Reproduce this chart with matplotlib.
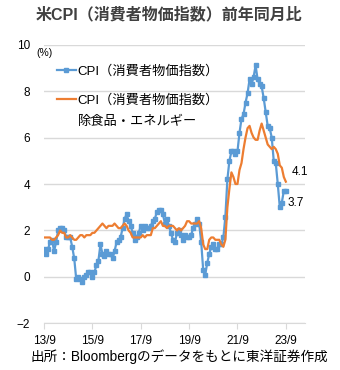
import matplotlib.pyplot as plt
import numpy as np

# monthly, 2013/9 - 2023/9 (YoY, %)
cpi = [
    1.2, 1.0, 1.2, 1.5,
    1.6, 1.1, 1.5, 2.0, 2.1, 2.1, 2.0, 1.7, 1.7, 1.7, 1.3, 0.8,
    -0.1, 0.0, -0.1, -0.2, 0.0, 0.1, 0.2, 0.2, 0.0, 0.2, 0.5, 0.7,
    1.4, 1.0, 0.9, 1.1, 1.0, 1.0, 0.8, 1.1, 1.5, 1.6, 1.7, 2.1,
    2.5, 2.7, 2.4, 2.2, 1.9, 1.6, 1.7, 1.9, 2.2, 2.0, 2.2, 2.1,
    2.1, 2.2, 2.4, 2.5, 2.8, 2.9, 2.9, 2.7, 2.3, 2.5, 2.2, 1.9,
    1.6, 1.5, 1.9, 2.0, 1.8, 1.6, 1.8, 1.7, 1.7, 1.8, 2.1, 2.3,
    2.5, 2.3, 1.5, 0.3, 0.1, 0.6, 1.0, 1.3, 1.4, 1.2, 1.2, 1.4,
    1.4, 1.7, 2.6, 4.2, 5.0, 5.4, 5.4, 5.3, 5.4, 6.2, 6.8, 7.0,
    7.5, 7.9, 8.5, 8.3, 8.6, 9.1, 8.5, 8.3, 8.2, 7.7, 7.1, 6.5,
    6.4, 6.0, 5.0, 4.9, 4.0, 3.0, 3.2, 3.7, 3.7,
]
core = [
    1.7, 1.7, 1.7, 1.7,
    1.6, 1.6, 1.7, 1.8, 2.0, 1.9, 1.9, 1.7, 1.7, 1.8, 1.7, 1.6,
    1.6, 1.7, 1.8, 1.8, 1.7, 1.8, 1.8, 1.8, 1.9, 1.9, 2.0, 2.1,
    2.2, 2.3, 2.2, 2.1, 2.2, 2.2, 2.2, 2.3, 2.2, 2.1, 2.1, 2.2,
    2.3, 2.2, 2.0, 1.9, 1.7, 1.7, 1.7, 1.7, 1.7, 1.8, 1.7, 1.8,
    1.8, 1.8, 2.1, 2.1, 2.2, 2.3, 2.4, 2.2, 2.2, 2.1, 2.2, 2.2,
    2.2, 2.1, 2.0, 2.1, 2.0, 2.1, 2.2, 2.4, 2.4, 2.3, 2.3, 2.3,
    2.3, 2.4, 2.1, 1.4, 1.2, 1.2, 1.6, 1.7, 1.7, 1.6, 1.6, 1.6,
    1.4, 1.3, 1.6, 3.0, 3.8, 4.5, 4.3, 4.0, 4.0, 4.6, 4.9, 5.5,
    6.0, 6.4, 6.5, 6.2, 6.0, 5.9, 5.9, 6.3, 6.6, 6.3, 6.0, 5.7,
    5.6, 5.5, 5.6, 5.5, 5.3, 4.8, 4.7, 4.3, 4.1,
]
x_ticks = [0, 24, 48, 72, 96, 120]
x_labels = ["13/9", "15/9", "17/9", "19/9", "21/9", "23/9"]
y_ticks = [-2, 0, 2, 4, 6, 8, 10]

BLUE = "#5B9BD5"
ORANGE = "#ED7D31"
JP = ["Liberation Sans", "Noto Sans CJK JP"]

plt.rcParams["font.family"] = JP

fig = plt.figure(figsize=(3.4, 3.7), dpi=100)
ax = fig.add_axes([0.1294, 0.1257, 0.7676, 0.754])

t = np.arange(len(cpi))
ax.plot(t, cpi, color=BLUE, lw=1.6, marker="s", ms=3.2,
        label="CPI（消費者物価指数）", zorder=3)
ax.plot(t, core, color=ORANGE, lw=1.6,
        label="CPI（消費者物価指数）", zorder=4)

ax.set_xlim(0, 129.5)
ax.set_ylim(-2, 10)
ax.set_yticks(y_ticks)
ax.set_xticks(x_ticks)
ax.set_xticklabels(x_labels)
ax.grid(axis="y", color="#D9D9D9", lw=1)
ax.set_axisbelow(True)
for s in ["top", "right", "left"]:
    ax.spines[s].set_visible(False)
ax.spines["bottom"].set_color("#D9D9D9")
ax.tick_params(axis="y", length=0, pad=10, labelsize=8.5)
ax.tick_params(axis="x", length=4, color="#D9D9D9", labelsize=8.5, pad=4)

# end labels
ax.annotate(f"{core[-1]:.1f}", (t[-1], core[-1]), xytext=(4, 5),
            textcoords="offset points", fontsize=8.5)
ax.annotate(f"{cpi[-1]:.1f}", (t[-1], cpi[-1]), xytext=(1, -11),
            textcoords="offset points", fontsize=8.5)

leg = ax.legend(loc="upper left", bbox_to_anchor=(0.03, 0.945), frameon=False,
                fontsize=9.5, handlelength=1.4, handletextpad=0.15,
                labelspacing=1.25, borderaxespad=0)
ax.text(0.128, 0.722, "除食品・エネルギー", transform=ax.transAxes,
        fontsize=9.5, va="center")
ax.text(-0.03, 0.97, "(%)", transform=ax.transAxes, fontsize=7.5, va="center")

fig.text(0.497, 0.962, "米CPI（消費者物価指数）前年同月比", ha="center", va="center",
         fontsize=11.5, fontweight="bold", color="#404040")
fig.text(0.527, 0.035, "出所：Bloombergのデータをもとに東洋証券作成",
         ha="center", va="center", fontsize=9.8)

fig.savefig("out.png", dpi=100)
